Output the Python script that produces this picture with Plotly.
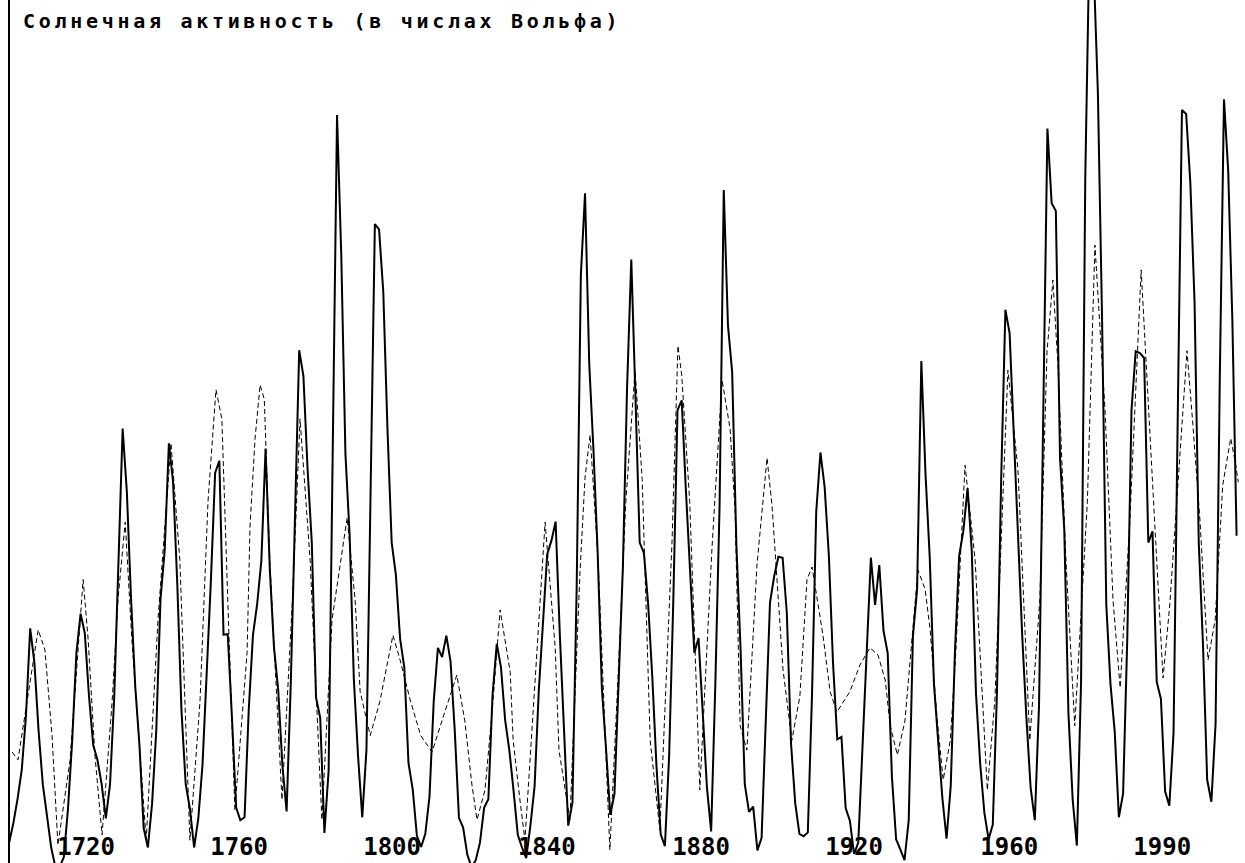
import plotly.graph_objects as go

# ---- data ----
years = list(range(1700, 1993))
wolf = [
    5, 9, 14, 20, 31, 49, 42, 28, 17, 10,            # 1700-1709
    4, 0, 0, 2, 12, 26, 44, 52, 48, 35,               # 1710-1719
    25, 22, 17, 10, 17, 35, 62, 90, 77, 55,           # 1720-1729
    37, 25, 8, 4, 13, 28, 55, 65, 87, 79,             # 1730-1739
    58, 32, 17, 12, 4, 10, 21, 39, 59, 80.9,          # 1740-1749
    83.4, 47.7, 47.8, 30.7, 12.2, 9.6, 10.2, 32.4, 47.6, 54.0,      # 1750-1759
    62.9, 85.9, 61.2, 45.1, 36.4, 20.9, 11.4, 37.8, 69.8, 106.1,    # 1760-1769
    100.8, 81.6, 66.5, 34.8, 30.6, 7.0, 19.8, 92.5, 154.4, 125.9,   # 1770-1779
    84.8, 68.1, 38.5, 22.8, 10.2, 24.1, 82.9, 132.0, 130.9, 118.1,  # 1780-1789
    89.9, 66.6, 60.0, 46.9, 41.0, 21.3, 16.0, 6.4, 4.1, 6.8,        # 1790-1799
    14.5, 34.0, 45.0, 43.1, 47.5, 42.2, 28.1, 10.1, 8.1, 2.5,       # 1800-1809
    0.0, 1.4, 5.0, 12.2, 13.9, 35.4, 45.8, 41.0, 30.1, 23.9,        # 1810-1819
    15.6, 6.6, 4.0, 1.8, 8.5, 16.6, 36.3, 49.6, 64.2, 67.0,         # 1820-1829
    70.9, 47.8, 27.5, 8.5, 13.2, 56.9, 121.5, 138.3, 103.2, 85.7,   # 1830-1839
    64.6, 36.7, 24.2, 10.7, 15.0, 40.1, 61.5, 98.5, 124.7, 96.3,    # 1840-1849
    66.6, 64.5, 54.1, 39.0, 20.6, 6.7, 4.3, 22.7, 54.8, 93.8,       # 1850-1859
    95.8, 77.2, 59.1, 44.0, 47.0, 30.5, 16.3, 7.3, 37.6, 74.0,      # 1860-1869
    139.0, 111.2, 101.6, 66.2, 44.7, 17.0, 11.3, 12.4, 3.4, 6.0,    # 1870-1879
    32.3, 54.3, 59.7, 63.7, 63.5, 52.2, 25.4, 13.1, 6.8, 6.3,       # 1880-1889
    7.1, 35.6, 73.0, 85.1, 78.0, 64.0, 41.8, 26.2, 26.7, 12.1,      # 1890-1899
    9.5, 2.7, 5.0, 24.4, 42.0, 63.5, 53.8, 62.0, 48.5, 43.9,        # 1900-1909
    18.6, 5.7, 3.6, 1.4, 9.6, 47.4, 57.1, 103.9, 80.6, 63.6,        # 1910-1919
    37.6, 26.1, 14.2, 5.8, 16.7, 44.3, 63.9, 69.0, 77.8, 64.9,      # 1920-1929
    35.7, 21.2, 11.1, 5.7, 8.7, 36.1, 79.7, 114.4, 109.6, 88.8,     # 1930-1939
    67.8, 47.5, 30.6, 16.3, 9.6, 33.2, 92.6, 151.6, 136.3, 134.7,   # 1940-1949
    83.9, 69.4, 31.5, 13.9, 4.4, 38.0, 141.7, 190.2, 184.8, 159.0,  # 1950-1959
    112.3, 53.9, 37.5, 27.9, 10.2, 15.1, 47.0, 93.8, 105.9, 105.5,  # 1960-1969
    104.5, 66.6, 68.9, 38.0, 34.5, 15.5, 12.6, 27.5, 92.5, 155.4,   # 1970-1979
    154.6, 140.4, 115.9, 66.6, 45.9, 17.9, 13.4, 29.4, 100.2, 157.6,  # 1980-1989
    143.0, 112.0, 68.0,                                # 1990-1992
]

model_years = [
    1700.7, 1702.1, 1706.9, 1708.5, 1710.2, 1711.6, 1714.5, 1717.6, 1718.8, 1720.4,
    1722.1, 1724.5, 1725.9, 1727.6, 1729.2, 1732.6, 1735.4, 1738.5, 1740.6, 1743.0,
    1745.4, 1747.3, 1749.2, 1750.6, 1752.0, 1753.7, 1756.6, 1757.3, 1758.5, 1759.7,
    1760.7, 1762.0, 1764.9, 1767.4, 1769.2, 1771.6, 1774.4, 1776.8, 1780.4, 1782.3,
    1783.5, 1785.9, 1788.2, 1791.3, 1793.0, 1795.4, 1797.9, 1800.6, 1803.7, 1806.5,
    1808.4, 1810.1, 1811.3, 1813.2, 1814.9, 1816.8, 1819.2, 1819.9, 1821.5, 1822.7,
    1825.1, 1827.5, 1829.9, 1830.8, 1833.4, 1835.8, 1837.0, 1838.2, 1840.1, 1842.9,
    1844.8, 1846.7, 1848.9, 1850.6, 1852.5, 1854.8, 1857.7, 1859.1, 1860.0, 1861.9,
    1863.6, 1864.3, 1867.2, 1869.6, 1871.5, 1872.7, 1873.9, 1875.5, 1877.9, 1880.3,
    1881.5, 1884.1, 1886.2, 1888.1, 1889.8, 1891.0, 1893.6, 1895.3, 1896.9, 1900.0,
    1902.4, 1904.8, 1906.7, 1908.4, 1909.6, 1911.3, 1913.1, 1914.8, 1916.2, 1917.9,
    1919.1, 1920.8, 1922.2, 1923.9, 1925.1, 1927.4, 1929.8, 1932.7, 1934.5, 1937.6,
    1940.0, 1942.8, 1945.2, 1946.9, 1948.3, 1949.5, 1951.4, 1953.5, 1956.5, 1958.3,
    1960.7, 1962.6, 1964.3, 1966.6, 1969.3, 1971.4, 1974.5, 1976.1, 1980.2, 1981.6,
    1983.3, 1985.2, 1986.9, 1988.7, 1990.6, 1991.8, 1992.4,
]
model_vals = [
    23.6, 22.0, 48.7, 44.6, 27.0, 4.5, 22.0, 59.0, 46.6, 23.0,
    6.6, 34.0, 55.0, 70.8, 46.6, 5.5, 50.7, 87.0, 63.0, 5.5,
    34.0, 75.0, 98.0, 92.0, 55.0, 11.7, 44.0, 70.0, 88.0, 99.0,
    96.0, 63.0, 13.8, 55.0, 92.0, 63.0, 9.7, 50.7, 71.7, 54.8,
    36.0, 27.0, 34.0, 47.6, 42.5, 34.3, 27.0, 23.6, 32.0, 39.4,
    30.0, 16.8, 9.7, 15.8, 32.0, 52.8, 40.0, 26.0, 13.8, 5.5,
    38.0, 70.8, 45.0, 24.0, 9.7, 60.6, 80.0, 88.7, 63.0, 3.5,
    38.0, 75.0, 102.0, 79.5, 26.0, 7.6, 67.0, 107.0, 101.0, 75.0,
    34.0, 15.8, 65.5, 100.0, 90.0, 73.0, 29.0, 24.0, 62.0, 84.0,
    74.0, 40.5, 26.0, 35.0, 59.0, 61.6, 47.6, 36.0, 31.8, 36.0,
    41.5, 45.0, 43.5, 38.4, 29.0, 23.0, 30.0, 46.6, 61.0, 57.0,
    48.7, 30.0, 17.9, 26.0, 42.5, 82.5, 63.0, 15.8, 34.3, 102.0,
    81.5, 26.0, 55.0, 105.7, 120.5, 103.0, 63.0, 29.0, 75.0, 127.7,
    93.8, 54.8, 36.8, 71.0, 122.6, 88.7, 38.8, 53.8, 106.0, 90.8,
    71.0, 42.5, 50.7, 78.4, 88.0, 82.5, 79.0,
]

tick_labels = ["1720", "1760", "1800", "1840", "1880", "1920", "1960", "1990"]
title_text = "Солнечная активность (в числах Вольфа)"

# ---- layout helpers (label placement on the axis) ----
tick_positions = [1718.3, 1754.7, 1791.1, 1827.9, 1864.6, 1901.0, 1937.9, 1974.3]

fig = go.Figure()
fig.add_trace(go.Scatter(
    x=model_years, y=model_vals, mode="lines",
    line=dict(color="black", width=1, dash="5px,3px"),
    hoverinfo="skip", showlegend=False,
))
fig.add_trace(go.Scatter(
    x=years, y=wolf, mode="lines",
    line=dict(color="black", width=2),
    hoverinfo="skip", showlegend=False,
))

fig.update_layout(
    width=1245, height=863,
    margin=dict(l=10, r=0, t=0, b=0),
    paper_bgcolor="white", plot_bgcolor="white",
    title=dict(
        text=title_text, x=23 / 1245, xanchor="left", xref="container",
        y=1 - 21 / 863, yanchor="middle", yref="container",
        font=dict(family="DejaVu Sans Mono", size=20, color="black", weight="bold"),
    ),
    xaxis=dict(
        range=[1700.2, 1994.0], showgrid=False, zeroline=False, showline=False,
        tickmode="array", tickvals=tick_positions, ticktext=tick_labels,
        ticklabelposition="inside", ticks="",
        tickfont=dict(family="DejaVu Sans Mono", size=24, color="black", weight="bold"),
    ),
    yaxis=dict(
        range=[0.82, 178.0], showgrid=False, zeroline=False,
        showline=True, linecolor="black", linewidth=2, mirror=False,
        showticklabels=False, ticks="",
    ),
)

post = (
    "document.body.style.margin='0';"
    "document.body.style.overflow='hidden';"
    "document.querySelectorAll('.gtitle').forEach(function(t){"
    "t.style.letterSpacing='3.7px';});"
)
fig.write_html("out.html", post_script=post, config={"displayModeBar": False})
